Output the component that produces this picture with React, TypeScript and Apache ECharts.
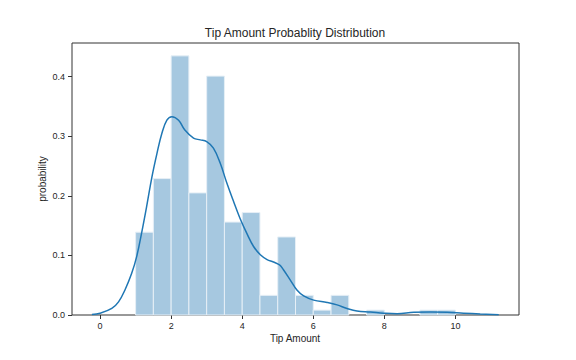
import React, { useEffect, useRef } from "react";
import * as echarts from "echarts";

// Histogram bins (left edge, right edge) and density heights
const binLeft = [1, 1.5, 2, 2.5, 3, 3.5, 4, 4.5, 5, 5.5, 6, 6.5, 7, 7.5, 8, 8.5, 9, 9.5];
const binRight = [1.5, 2, 2.5, 3, 3.5, 4, 4.5, 5, 5.5, 6, 6.5, 7, 7.5, 8, 8.5, 9, 9.5, 10];
const density = [0.139, 0.229, 0.435, 0.205, 0.401, 0.156, 0.172, 0.033, 0.131, 0.033, 0.0082, 0.033, 0, 0.0082, 0, 0, 0.0082, 0.0082];

// KDE curve
const kdeX = [-0.23, 0, 0.33, 0.52, 0.7, 0.89, 1.03, 1.17, 1.31, 1.46, 1.6, 1.74, 1.88, 2.02, 2.21, 2.38, 2.63, 2.82, 3.0, 3.19, 3.38, 3.57, 3.76, 3.94, 4.13, 4.32, 4.51, 4.7, 4.88, 5.05, 5.16, 5.35, 5.54, 5.73, 6.01, 6.39, 6.67, 6.95, 7.23, 7.61, 7.98, 8.36, 8.83, 9.3, 9.77, 10.23, 10.7, 11.22];
const kdeY = [0.001, 0.003, 0.011, 0.022, 0.042, 0.07, 0.098, 0.138, 0.182, 0.232, 0.271, 0.305, 0.327, 0.333, 0.327, 0.311, 0.297, 0.294, 0.291, 0.28, 0.255, 0.221, 0.19, 0.162, 0.137, 0.115, 0.101, 0.093, 0.089, 0.084, 0.076, 0.059, 0.042, 0.032, 0.025, 0.021, 0.017, 0.011, 0.0067, 0.005, 0.003, 0.002, 0.0045, 0.005, 0.0045, 0.003, 0.0017, 0.0005];

const xTicks = [0, 2, 4, 6, 8, 10];
const yTicks = [0, 0.1, 0.2, 0.3, 0.4];

const titleText = "Tip Amount Probablity Distribution";
const xLabel = "Tip Amount";
const yLabel = "probability";

const FONT = "'Liberation Sans', Arial, Helvetica, sans-serif";

export default function App() {
  const ref = useRef<HTMLDivElement>(null);
  useEffect(() => {
    if (!ref.current) return;
    const chart = echarts.init(ref.current, undefined, { renderer: "svg" });
    const barData = binLeft.map((l, i) => [l, binRight[i], density[i]]);
    const lineData = kdeX.map((x, i) => [x, kdeY[i]]);
    chart.setOption({
      animation: false,
      backgroundColor: "#ffffff",
      textStyle: { fontFamily: FONT },
      grid: {
        left: 72,
        right: 57,
        top: 43,
        bottom: 45,
        show: true,
        borderColor: "#333333",
        borderWidth: 1,
        backgroundColor: "transparent",
      },
      xAxis: {
        type: "value",
        min: -0.79,
        max: 11.79,
        axisLine: { show: false, onZero: false },
        axisTick: {
          show: true,
          customValues: xTicks,
          length: 4,
          lineStyle: { color: "#333333" },
        },
        axisLabel: {
          customValues: xTicks,
          fontSize: 9,
          color: "#262626",
          margin: 6,
          fontFamily: FONT,
        },
        splitLine: { show: false },
      },
      yAxis: {
        type: "value",
        min: 0,
        max: 0.4566,
        axisLine: { show: false, onZero: false },
        axisTick: {
          show: true,
          customValues: yTicks,
          length: 4,
          lineStyle: { color: "#333333" },
        },
        axisLabel: {
          customValues: yTicks,
          fontSize: 9,
          color: "#262626",
          margin: 7,
          fontFamily: FONT,
          formatter: (v: number) => v.toFixed(1),
        },
        splitLine: { show: false },
      },
      graphic: [
        {
          type: "text",
          x: 295,
          y: 33,
          style: {
            text: titleText,
            fontSize: 12,
            fill: "#262626",
            fontFamily: FONT,
            align: "center",
            verticalAlign: "middle",
          },
        },
        {
          type: "text",
          x: 295,
          y: 338,
          style: {
            text: xLabel,
            fontSize: 10,
            fill: "#262626",
            fontFamily: FONT,
            align: "center",
            verticalAlign: "middle",
          },
        },
        {
          type: "text",
          x: 42,
          y: 179,
          rotation: Math.PI / 2,
          style: {
            text: yLabel,
            fontSize: 10,
            fill: "#262626",
            fontFamily: FONT,
            align: "center",
            verticalAlign: "middle",
          },
        },
      ],
      series: [
        {
          type: "custom",
          data: barData,
          encode: { x: [0, 1], y: 2 },
          z: 2,
          renderItem: (params: any, api: any) => {
            const x0 = api.value(0);
            const x1 = api.value(1);
            const h = api.value(2);
            if (!h) return null;
            const p0 = api.coord([x0, h]);
            const p1 = api.coord([x1, 0]);
            return {
              type: "rect",
              shape: { x: p0[0], y: p0[1], width: p1[0] - p0[0], height: p1[1] - p0[1] },
              style: { fill: "#a6c8e0", stroke: "#e6eff6", lineWidth: 1 },
            };
          },
        },
        {
          type: "line",
          data: lineData,
          smooth: 0.4,
          symbol: "none",
          z: 3,
          lineStyle: { color: "#1f77b4", width: 1.5 },
        },
      ],
    });
    return () => chart.dispose();
  }, []);
  return (
    <div
      ref={ref}
      style={{ position: "fixed", left: 0, top: 0, width: 576, height: 360 }}
    />
  );
}
